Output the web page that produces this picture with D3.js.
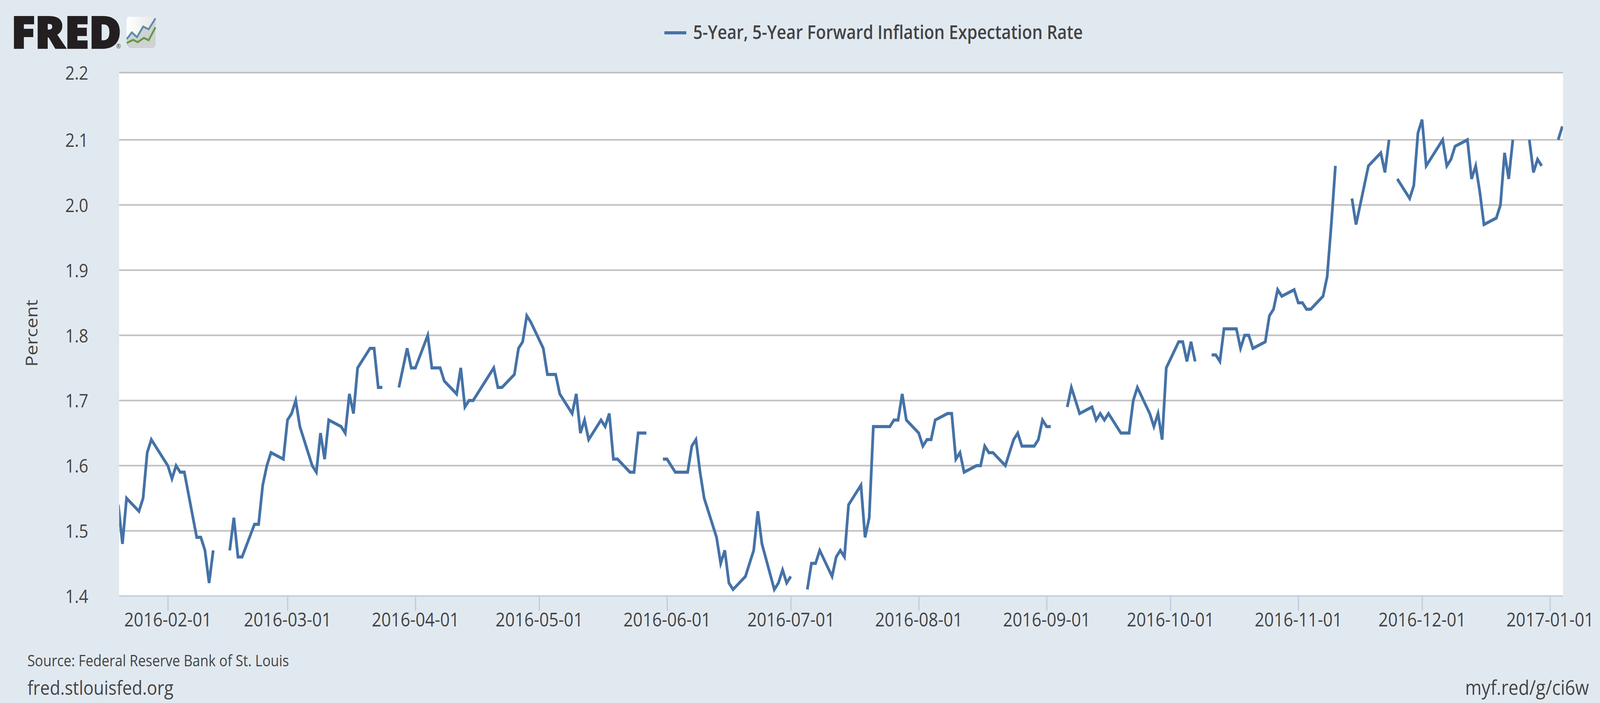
<!DOCTYPE html>
<html>
<head>
<meta charset="utf-8">
<script src="https://cdn.jsdelivr.net/npm/d3@7"></script>
<style>
  html, body { margin: 0; padding: 0; background: #e1e9f0; overflow: hidden; }
  svg { display: block; }
  text { font-family: "Open Sans", sans-serif; fill: #444444; }
</style>
</head>
<body>
<script>
var title = "5-Year, 5-Year Forward Inflation Expectation Rate";
var yLabel = "Percent";
var sourceText = "Source: Federal Reserve Bank of St. Louis";
var leftFooter = "fred.stlouisfed.org";
var rightFooter = "myf.red/g/ci6w";

var yTicks = [1.4, 1.5, 1.6, 1.7, 1.8, 1.9, 2.0, 2.1, 2.2];
var xTicks = ["2016-02-01", "2016-03-01", "2016-04-01", "2016-05-01", "2016-06-01", "2016-07-01",
    "2016-08-01", "2016-09-01", "2016-10-01", "2016-11-01", "2016-12-01", "2017-01-01"];

// one row per month, null = market holiday (gap in the line)
var months = ["2016-01", "2016-02", "2016-03", "2016-04", "2016-05", "2016-06", "2016-07",
    "2016-08", "2016-09", "2016-10", "2016-11", "2016-12", "2017-01"];
var monthDays = [
    [20,21,22,25,26,27,28,29],
    [1,2,3,4,5,8,9,10,11,12,15,16,17,18,19,22,23,24,25,26,29],
    [1,2,3,4,7,8,9,10,11,14,15,16,17,18,21,22,23,24,25,28,29,30,31],
    [1,4,5,6,7,8,11,12,13,14,15,18,19,20,21,22,25,26,27,28,29],
    [2,3,4,5,6,9,10,11,12,13,16,17,18,19,20,23,24,25,26,27,30,31],
    [1,2,3,6,7,8,9,10,13,14,15,16,17,20,21,22,23,24,27,28,29,30],
    [1,4,5,6,7,8,11,12,13,14,15,18,19,20,21,22,25,26,27,28,29],
    [1,2,3,4,5,8,9,10,11,12,15,16,17,18,19,22,23,24,25,26,29,30,31],
    [1,2,5,6,7,8,9,12,13,14,15,16,19,20,21,22,23,26,27,28,29,30],
    [3,4,5,6,7,10,11,12,13,14,17,18,19,20,21,24,25,26,27,28,31],
    [1,2,3,4,7,8,9,10,11,14,15,16,17,18,21,22,23,24,25,28,29,30],
    [1,2,5,6,7,8,9,12,13,14,15,16,19,20,21,22,23,26,27,28,29,30],
    [2,3,4]
];
var monthRates = [
    [1.54,1.48,1.55,1.53,1.55,1.62,1.64,1.63],
    [1.60,1.58,1.60,1.59,1.59,1.49,1.49,1.47,1.42,1.47,null,1.47,1.52,1.46,1.46,1.51,1.51,1.57,1.60,1.62,1.61],
    [1.67,1.68,1.70,1.66,1.60,1.59,1.65,1.61,1.67,1.66,1.65,1.71,1.68,1.75,1.78,1.78,1.72,1.72,null,1.72,1.75,1.78,1.75],
    [1.75,1.80,1.75,1.75,1.75,1.73,1.71,1.75,1.69,1.70,1.70,1.73,1.74,1.75,1.72,1.72,1.74,1.78,1.79,1.83,1.82],
    [1.78,1.74,1.74,1.74,1.71,1.68,1.71,1.65,1.67,1.64,1.67,1.66,1.68,1.61,1.61,1.59,1.59,1.65,1.65,1.65,null,1.61],
    [1.61,1.60,1.59,1.59,1.63,1.64,1.59,1.55,1.49,1.45,1.47,1.42,1.41,1.43,1.45,1.47,1.53,1.48,1.41,1.42,1.44,1.42],
    [1.43,null,1.41,1.45,1.45,1.47,1.43,1.46,1.47,1.46,1.54,1.57,1.49,1.52,1.66,1.66,1.66,1.67,1.67,1.71,1.67],
    [1.65,1.63,1.64,1.64,1.67,1.68,1.68,1.61,1.62,1.59,1.60,1.60,1.63,1.62,1.62,1.60,1.62,1.64,1.65,1.63,1.63,1.64,1.67],
    [1.66,1.66,null,1.69,1.72,1.70,1.68,1.69,1.67,1.68,1.67,1.68,1.65,1.65,1.65,1.70,1.72,1.68,1.66,1.68,1.64,1.75],
    [1.79,1.79,1.76,1.79,1.76,null,1.77,1.77,1.76,1.81,1.81,1.78,1.80,1.80,1.78,1.79,1.83,1.84,1.87,1.86,1.87],
    [1.85,1.85,1.84,1.84,1.86,1.89,1.97,2.06,null,2.01,1.97,2.00,2.03,2.06,2.08,2.05,2.10,null,2.04,2.01,2.03,2.11],
    [2.13,2.06,2.09,2.10,2.06,2.07,2.09,2.10,2.04,2.06,2.02,1.97,1.98,2.00,2.08,2.04,2.10,null,2.10,2.05,2.07,2.06],
    [null,2.10,2.12]
];

var parseDay = d3.utcParse("%Y-%m-%d");
var series = [];
months.forEach(function (m, i) {
    monthDays[i].forEach(function (day, j) {
        series.push({ date: parseDay(m + "-" + String(day).padStart(2, "0")), rate: monthRates[i][j] });
    });
});

var plot = { left: 348, right: 4564, top: 186, bottom: 1526 };

// fit the 4672x1800 drawing to whatever window the page really gets
var svg = d3.select("body")
    .append("svg")
    .attr("viewBox", "0 0 4672 1800")
    .attr("preserveAspectRatio", "none")
    .attr("width", window.innerWidth)
    .attr("height", window.innerHeight);

svg.append("rect")
    .attr("width", 4672)
    .attr("height", 1800)
    .attr("fill", "#e1e9f0");

svg.append("rect")
    .attr("x", plot.left)
    .attr("y", plot.top)
    .attr("width", plot.right - plot.left)
    .attr("height", plot.bottom - plot.top)
    .attr("fill", "#ffffff");

var x = d3.scaleUtc()
    .domain([parseDay("2016-01-20"), parseDay("2017-01-04")])
    .range([345.5, 4562]);

// the source rounded its gridlines, the top one sits a little high
var y = d3.scaleLinear()
    .domain([1.4, 2.1, 2.2])
    .range([plot.bottom, 358, plot.top]);

//##################################################
//# Grid + axes
//##################################################
svg.append("g")
    .selectAll("line")
    .data(yTicks.slice(1))
    .join("line")
    .attr("x1", plot.left)
    .attr("x2", plot.right)
    .attr("y1", function (d) { return y(d); })
    .attr("y2", function (d) { return y(d); })
    .attr("stroke", "#c0c0c0")
    .attr("stroke-width", 4);

var xAxis = svg.append("g")
    .attr("transform", "translate(0," + plot.bottom + ")")
    .call(d3.axisBottom(x)
        .tickValues(xTicks.map(parseDay))
        .tickFormat(d3.utcFormat("%Y-%m-%d"))
        .tickSize(38)
        .tickPadding(5)
        .tickSizeOuter(0));
xAxis.select(".domain").remove();
xAxis.selectAll("line").attr("stroke", "#c0d0e0").attr("stroke-width", 4);
xAxis.selectAll("text")
    .attr("font-size", 49)
    .attr("fill", "#444444")
    .style("font-family", '"Open Sans", sans-serif');

svg.append("line")
    .attr("x1", plot.left)
    .attr("x2", plot.right)
    .attr("y1", plot.bottom)
    .attr("y2", plot.bottom)
    .attr("stroke", "#c0d0e0")
    .attr("stroke-width", 4);

svg.append("g")
    .selectAll("text")
    .data(yTicks)
    .join("text")
    .attr("x", 258)
    .attr("y", function (d) { return y(d) + 18; })
    .attr("text-anchor", "end")
    .attr("font-size", 48)
    .text(function (d) { return d.toFixed(1); });

svg.append("text")
    .attr("transform", "translate(110,853) rotate(-90)")
    .attr("text-anchor", "middle")
    .attr("font-size", 48)
    .text(yLabel);

//##################################################
//# Series
//##################################################
svg.append("clipPath")
    .attr("id", "plot-clip")
    .append("rect")
    .attr("x", plot.left)
    .attr("y", plot.top - 10)
    .attr("width", plot.right - plot.left)
    .attr("height", plot.bottom - plot.top + 20);

var line = d3.line()
    .defined(function (d) { return d.rate !== null; })
    .x(function (d) { return x(d.date); })
    .y(function (d) { return y(d.rate); });

svg.append("path")
    .datum(series)
    .attr("clip-path", "url(#plot-clip)")
    .attr("d", line)
    .attr("fill", "none")
    .attr("stroke", "#4572a7")
    .attr("stroke-width", 8)
    .attr("stroke-linejoin", "miter");

//##################################################
//# Legend + footer
//##################################################
svg.append("line")
    .attr("x1", 1940)
    .attr("x2", 2004)
    .attr("y1", 84)
    .attr("y2", 84)
    .attr("stroke", "#4572a7")
    .attr("stroke-width", 8);

svg.append("text")
    .attr("x", 2024)
    .attr("y", 100)
    .attr("font-size", 48)
    .attr("font-weight", 600)
    .text(title);

svg.append("text").attr("x", 80).attr("y", 1706).attr("font-size", 40).text(sourceText);
svg.append("text").attr("x", 80).attr("y", 1779).attr("font-size", 50).text(leftFooter);
svg.append("text").attr("x", 4640).attr("y", 1779).attr("text-anchor", "end").attr("font-size", 52).text(rightFooter);

//##################################################
//# FRED logo
//##################################################
var logo = svg.append("g");
logo.append("text")
    .attr("x", 33)
    .attr("y", 123)
    .attr("font-size", 112)
    .attr("font-weight", 800)
    .attr("textLength", 321)
    .attr("lengthAdjust", "spacingAndGlyphs")
    .style("fill", "#231f20")
    .attr("stroke", "#231f20")
    .attr("stroke-width", 4)
    .text("FRED");
logo.append("text")
    .attr("x", 339)
    .attr("y", 124)
    .attr("font-size", 17)
    .text("®");

var grad = svg.append("linearGradient").attr("id", "logo-bg");
grad.append("stop").attr("offset", 0).attr("stop-color", "#ffffff");
grad.append("stop").attr("offset", 1).attr("stop-color", "#e6e6e6");

logo.append("rect")
    .attr("x", 370).attr("y", 43).attr("width", 84).attr("height", 80).attr("rx", 7)
    .attr("fill", "url(#logo-bg)");

var logoBlue = [[370, 100], [385, 83], [400, 95], [418, 68], [434, 75], [454, 47]];
var logoGreen = [[370, 110], [389, 102], [402, 108], [420, 97], [434, 103], [454, 70]];

logo.append("path")
    .attr("d", d3.line()(logoBlue.concat([[454, 116], [447, 123], [377, 123], [370, 116]])) + "Z")
    .attr("fill", "#d0d1d3");
logo.append("path")
    .attr("d", d3.line()(logoBlue))
    .attr("fill", "none").attr("stroke", "#5b8ca9").attr("stroke-width", 5);
logo.append("path")
    .attr("d", d3.line()(logoGreen))
    .attr("fill", "none").attr("stroke", "#5f9a3f").attr("stroke-width", 5);
</script>
</body>
</html>
